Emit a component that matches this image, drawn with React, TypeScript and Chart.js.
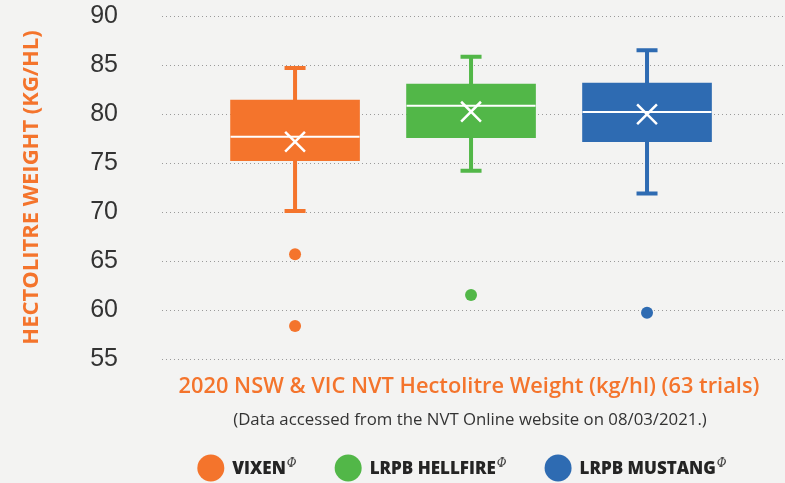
import React, { useEffect, useRef } from 'react';
import { Chart, registerables } from 'chart.js';

Chart.register(...registerables);

// ---- data ----
const categories = ['VIXEN', 'LRPB HELLFIRE', 'LRPB MUSTANG'];
const colors = ['#F4742C', '#52B748', '#2E6BB2'];
const whiskerMin = [70.1, 74.2, 71.9];
const q1 = [75.24, 77.58, 77.17];
const median = [77.68, 80.85, 80.2];
const mean = [77.17, 80.24, 79.97];
const q3 = [81.43, 83.06, 83.16];
const whiskerMax = [84.7, 85.85, 86.5];
const outliers = [[65.7, 58.37], [61.53], [59.72]];

const yMin = 55;
const yMax = 90;
const yStep = 5;

const yTitle = 'HECTOLITRE WEIGHT (KG/HL)';
const chartTitle = '2020 NSW & VIC NVT Hectolitre Weight (kg/hl) (63 trials)';
const chartSubtitle = '(Data accessed from the NVT Online website on 08/03/2021.)';
const pbrMark = 'Φ';

const ORANGE = '#F4742C';
const DARK = '#333333';
const BG = '#F3F3F2';

const boxPlugin = {
  id: 'boxExtras',
  beforeDatasetsDraw(chart: any) {
    const { ctx, scales } = chart;
    const xs = scales.x;
    const ys = scales.y;
    ctx.save();
    categories.forEach((_, i) => {
      const x = xs.getPixelForValue(i + 1);
      const yTop = ys.getPixelForValue(whiskerMax[i]);
      const yBot = ys.getPixelForValue(whiskerMin[i]);
      const yQ1 = ys.getPixelForValue(q1[i]);
      const yQ3 = ys.getPixelForValue(q3[i]);
      ctx.strokeStyle = colors[i];
      ctx.lineWidth = 4;
      ctx.beginPath();
      ctx.moveTo(x, yTop);
      ctx.lineTo(x, yQ3);
      ctx.moveTo(x, yQ1);
      ctx.lineTo(x, yBot);
      ctx.stroke();
      ctx.beginPath();
      ctx.moveTo(x - 10.5, yTop);
      ctx.lineTo(x + 10.5, yTop);
      ctx.moveTo(x - 10.5, yBot);
      ctx.lineTo(x + 10.5, yBot);
      ctx.stroke();
    });
    ctx.restore();
  },
  afterDatasetDraw(chart: any, args: any) {
    if (args.index !== 0) return;
    const { ctx, scales } = chart;
    const meta = chart.getDatasetMeta(0);
    ctx.save();
    ctx.strokeStyle = '#ffffff';
    ctx.lineWidth = 2;
    meta.data.forEach((bar: any, i: number) => {
      const y = scales.y.getPixelForValue(median[i]);
      const half = bar.width / 2;
      ctx.beginPath();
      ctx.moveTo(bar.x - half, y);
      ctx.lineTo(bar.x + half, y);
      ctx.stroke();
    });
    ctx.restore();
  },
  afterDraw(chart: any) {
    const { ctx } = chart;
    ctx.save();
    // title
    ctx.fillStyle = ORANGE;
    ctx.textAlign = 'center';
    ctx.textBaseline = 'alphabetic';
    ctx.font = '600 21.8px "Open Sans"';
    ctx.fillText(chartTitle, 469, 393);
    // subtitle
    ctx.fillStyle = DARK;
    ctx.font = '16.8px "Open Sans"';
    ctx.fillText(chartSubtitle, 470, 425);
    // legend
    const r = 13.5;
    const gap = 8;
    const itemGap = 38;
    const legendFont = '800 17px "Open Sans"';
    const supFont = 'italic 12px "DejaVu Serif"';
    const items = categories.map((c) => {
      ctx.font = legendFont;
      const tw = ctx.measureText(c).width;
      ctx.font = supFont;
      const sw = ctx.measureText(pbrMark).width;
      return { c, tw, sw, w: r * 2 + gap + tw + 1 + sw };
    });
    const total = items.reduce((a, b) => a + b.w, 0) + itemGap * (items.length - 1);
    let x = 462 - total / 2;
    const cy = 468;
    items.forEach((it, i) => {
      ctx.fillStyle = colors[i];
      ctx.beginPath();
      ctx.arc(x + r, cy, r, 0, Math.PI * 2);
      ctx.fill();
      ctx.fillStyle = '#242424';
      ctx.textAlign = 'left';
      ctx.font = legendFont;
      ctx.fillText(it.c, x + r * 2 + gap, 474);
      ctx.font = supFont;
      ctx.fillStyle = '#444';
      ctx.fillText(pbrMark, x + r * 2 + gap + it.tw + 1, 467);
      x += it.w + itemGap;
    });
    ctx.restore();
  },
};

export default function App() {
  const ref = useRef<HTMLCanvasElement | null>(null);

  useEffect(() => {
    document.body.style.margin = '0';
    document.body.style.background = BG;
    const canvas = ref.current;
    if (!canvas) return;

    const outlierPoints: { x: number; y: number }[] = [];
    const outlierColors: string[] = [];
    outliers.forEach((arr, i) =>
      arr.forEach((v) => {
        outlierPoints.push({ x: i + 1, y: v });
        outlierColors.push(colors[i]);
      })
    );

    const chart = new Chart(canvas, {
      type: 'bar',
      data: {
        datasets: [
          {
            type: 'bar',
            label: 'box',
            data: categories.map((_, i) => ({ x: i + 1, y: [q1[i], q3[i]] })) as any,
            backgroundColor: colors,
            borderWidth: 0,
            barThickness: 129,
            order: 3,
          } as any,
          {
            type: 'scatter',
            label: 'outliers',
            data: outlierPoints,
            backgroundColor: outlierColors,
            borderWidth: 0,
            pointRadius: 6,
            order: 2,
          } as any,
          {
            type: 'scatter',
            label: 'mean',
            data: mean.map((v, i) => ({ x: i + 1, y: v })),
            pointStyle: 'crossRot',
            pointRadius: 14,
            borderColor: '#ffffff',
            backgroundColor: '#ffffff',
            borderWidth: 2.5,
            order: 1,
          } as any,
        ],
      },
      options: {
        animation: false,
        responsive: false,
        events: [],
        layout: { autoPadding: false, padding: { top: 16, bottom: 124, left: 0, right: 0 } },
        plugins: {
          legend: { display: false },
          tooltip: { enabled: false },
        },
        scales: {
          x: { type: 'linear', min: 0.244, max: 3.784, display: false, offset: false },
          y: {
            min: yMin,
            max: yMax,
            ticks: {
              stepSize: yStep,
              padding: 0,
              color: DARK,
              font: { family: '"Liberation Sans"', size: 25 },
            },
            grid: {
              color: '#9a9a9a',
              lineWidth: 1,
              drawTicks: true,
              tickLength: 44,
              tickColor: 'rgba(0,0,0,0)',
            },
            border: { display: false, dash: [1, 3] },
            title: {
              display: true,
              text: yTitle,
              color: ORANGE,
              font: { family: '"Open Sans"', weight: 'bold', size: 22 },
              padding: { top: 19, bottom: 0 },
            },
            afterFit(scale: any) {
              scale.width = 162;
            },
          } as any,
        },
      },
      plugins: [boxPlugin],
    });

    return () => chart.destroy();
  }, []);

  return (
    <div style={{ position: 'fixed', left: 0, top: 0, width: 785, height: 483, background: BG }}>
      <canvas ref={ref} width={785} height={483} />
    </div>
  );
}
